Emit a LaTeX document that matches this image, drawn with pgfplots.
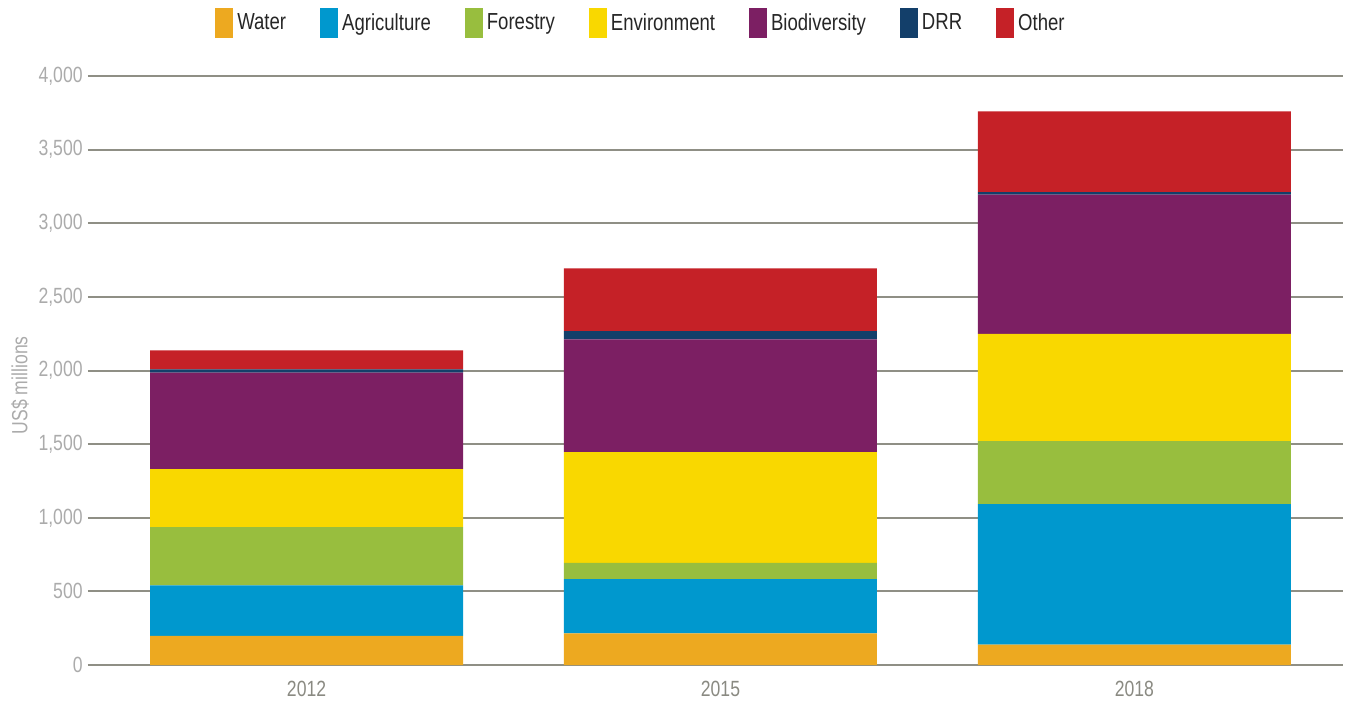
\documentclass[border=0pt]{standalone}
\usepackage{fontspec}
\setmainfont{Liberation Sans}[FakeStretch=0.8]
\usepackage{pgfplots}
\pgfplotsset{compat=1.18}

\definecolor{cWater}{HTML}{EDA920}
\definecolor{cAgri}{HTML}{0098CE}
\definecolor{cForest}{HTML}{98BE3E}
\definecolor{cEnv}{HTML}{F9D800}
\definecolor{cBio}{HTML}{7C1F63}
\definecolor{cDRR}{HTML}{133F6A}
\definecolor{cOther}{HTML}{C52127}
\definecolor{gridgray}{HTML}{8F8F85}
\definecolor{ylabgray}{HTML}{ABABAB}
\definecolor{xlabgray}{HTML}{8A8A82}

\begin{document}
\begin{tikzpicture}
\path[use as bounding box] (-44pt,-18.5pt) rectangle (632.5pt,332.5pt);
\begin{axis}[
  at={(0,0)}, anchor=south west,
  scale only axis,
  width=627.5pt, height=294.5pt,
  ybar stacked,
  bar width=156.5pt,
  xmin=-0.528, xmax=2.504,
  ymin=0, ymax=4000,
  xtick={0,1,2},
  xticklabels={2012,2015,2018},
  ytick={0,500,...,4000},
  scaled y ticks=false,
  /pgf/number format/assume math mode=true,
  /pgf/number format/1000 sep={,},
  ymajorgrids,
  grid style={draw=gridgray, line width=1pt},
  axis line style={draw=none},
  major tick length=0pt,
  yticklabel style={font=\fontsize{11}{13}\selectfont, text=ylabgray, inner sep=0pt, anchor=east, xshift=-2.5pt},
  xticklabel style={font=\fontsize{11}{13}\selectfont, text=xlabgray, inner sep=0pt, anchor=north, yshift=-8pt},
  ylabel={US\$ millions},
  ylabel style={at={(rel axis cs:-0.0542,0.475)}, anchor=center, font=\fontsize{11}{13}\selectfont, text=ylabgray},
  legend columns=7,
  legend image code/.code={\fill[#1] (0pt,-7.4pt) rectangle (9pt,7.4pt);},
  legend style={at={(rel axis cs:0.4414,1.0895)}, anchor=center, draw=none, fill=none,
    font=\fontsize{11.6}{13}\selectfont, text=black!85,
    /tikz/every even column/.append style={column sep=15pt},
    nodes={inner sep=2pt}},
]
\addplot[fill=cWater, draw=none] coordinates {(0,197) (1,215) (2,138)};
\addplot[fill=cAgri, draw=none] coordinates {(0,343) (1,368) (2,955)};
\addplot[fill=cForest, draw=none] coordinates {(0,397) (1,111) (2,428)};
\addplot[fill=cEnv, draw=none] coordinates {(0,394) (1,752) (2,727)};
\addplot[fill=cBio, draw=none] coordinates {(0,654) (1,765) (2,947)};
\addplot[fill=cDRR, draw=none] coordinates {(0,23) (1,56) (2,16)};
\addplot[fill=cOther, draw=none] coordinates {(0,129) (1,426) (2,548)};
\legend{Water,Agriculture,Forestry,Environment,Biodiversity,DRR,Other}
\draw[gridgray, line width=1.5pt] (rel axis cs:0,0) -- (rel axis cs:1,0);
\end{axis}
\end{tikzpicture}
\end{document}
